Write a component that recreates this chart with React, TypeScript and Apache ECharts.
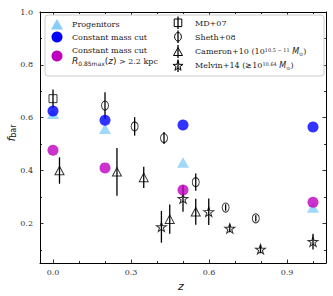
import React, { useEffect, useRef } from 'react';
import * as echarts from 'echarts';

// ---- data ----
const zModel = [0, 0.2, 0.5, 1.0];
const fProgenitors = [0.615, 0.558, 0.43, 0.26];
const fMassCut = [0.625, 0.59, 0.572, 0.565];
const fSizeCut = [0.477, 0.41, 0.326, 0.28];

const zMD07 = [0.0];
const fMD07 = [0.672];
const eMD07 = [0.035];

const zSheth08 = [0.2, 0.314, 0.427, 0.549, 0.664, 0.78];
const fSheth08 = [0.646, 0.567, 0.523, 0.356, 0.26, 0.219];
const eSheth08 = [0.05, 0.035, 0.023, 0.033, 0.012, 0.012];

const zCameron10 = [0.025, 0.246, 0.349, 0.449, 0.549];
const fCameron10 = [0.4, 0.395, 0.374, 0.216, 0.244];
const eCameron10 = [0.05, 0.09, 0.04, 0.055, 0.049];

const zMelvin14 = [0.417, 0.5, 0.599, 0.68, 0.798, 1.0];
const fMelvin14 = [0.187, 0.294, 0.244, 0.181, 0.102, 0.131];
const eMelvin14 = [0.06, 0.05, 0.05, 0.015, 0.015, 0.03];

const xMajor = [0, 0.3, 0.6, 0.9];
const xMinor = [0.1, 0.2, 0.4, 0.5, 0.7, 0.8, 1.0];
const yMajor = [0.2, 0.4, 0.6, 0.8, 1.0];
const yMinor = [0.1, 0.3, 0.5, 0.7, 0.9];

const STAR = 'path://M50 0 L61.23 34.55 L97.55 34.55 L68.17 55.9 L79.39 90.45 L50 69.1 L20.61 90.45 L31.83 55.9 L2.45 34.55 L38.77 34.55 Z';
const SERIF = 'DejaVu Serif';
const SANS = 'DejaVu Sans';
const CLEAR = 'rgba(0,0,0,0)';

function pts(z: number[], f: number[]) {
  return z.map((v, i) => [v, f[i]]);
}
function errs(z: number[], f: number[], e: number[]) {
  return z.map((v, i) => [v, f[i], f[i] - e[i], f[i] + e[i]]);
}
function starPoints(cx: number, cy: number, r: number) {
  const out: number[][] = [];
  for (let k = 0; k < 10; k++) {
    const a = -Math.PI / 2 + (k * Math.PI) / 5;
    const rr = k % 2 === 0 ? r : r * 0.382;
    out.push([cx + rr * Math.cos(a), cy + rr * Math.sin(a)]);
  }
  return out;
}

export default function App() {
  const ref = useRef<HTMLDivElement>(null);
  useEffect(() => {
    if (!ref.current) return;
    const chart = echarts.init(ref.current, null, { renderer: 'svg' });
    const tickLabel = { fontFamily: SERIF, fontSize: 8, color: '#333' };
    const mkX = (pos: string, vals: number[], len: number, label: boolean, line: boolean) => ({
      type: 'value', min: -0.05, max: 1.05, position: pos, gridIndex: 0,
      axisLine: { show: line, onZero: false, lineStyle: { color: '#000', width: 1 } },
      axisTick: { show: true, inside: true, length: len, customValues: vals, lineStyle: { color: '#000', width: 0.8 } },
      axisLabel: label ? { show: true, customValues: vals, formatter: (v: number) => v.toFixed(1), margin: 5, ...tickLabel } : { show: false },
      splitLine: { show: false },
    });
    const mkY = (pos: string, vals: number[], len: number, label: boolean, line: boolean) => ({
      type: 'value', min: 0.05, max: 1.0, position: pos, gridIndex: 0,
      axisLine: { show: line, onZero: false, lineStyle: { color: '#000', width: 1 } },
      axisTick: { show: true, inside: true, length: len, customValues: vals, lineStyle: { color: '#000', width: 0.8 } },
      axisLabel: label ? { show: true, customValues: vals, formatter: (v: number) => v.toFixed(1), margin: 7, ...tickLabel } : { show: false },
      splitLine: { show: false },
    });
    const errSeries = (data: number[][]) => ({
      type: 'custom', xAxisIndex: 0, yAxisIndex: 0,
      data,
      encode: { x: 0, y: [1, 2, 3] },
      renderItem: (_p: any, api: any) => {
        const x = api.value(0);
        const a = api.coord([x, api.value(2)]);
        const b = api.coord([x, api.value(3)]);
        return { type: 'line', shape: { x1: a[0], y1: a[1], x2: b[0], y2: b[1] }, style: { stroke: '#000', lineWidth: 1.3 } };
      },
      silent: true,
    });
    const openStyle = { color: CLEAR, borderColor: '#000', borderWidth: 1 };

    const lx = 57, rx = 178;
    const legendText = (x: number, y: number, text: string, rich?: any) => ({
      type: 'text', x, y, z: 101,
      style: { text, fontFamily: SERIF, fontSize: 8, fill: '#222', verticalAlign: 'middle', align: 'left', rich },
    });
    const richMath = {
      sup: { fontFamily: SERIF, fontSize: 5, verticalAlign: 'top', fill: '#222', padding: [0, 0, 4, 0] },
      it: { fontFamily: SANS, fontStyle: 'italic', fontSize: 8, fill: '#222' },
      sub: { fontFamily: SANS, fontSize: 5, fill: '#222', padding: [4, 0, 0, 0] },
      t: { fontFamily: SERIF, fontSize: 8, fill: '#222' },
    };
    const richR = {
      ri: { fontFamily: SANS, fontStyle: 'italic', fontSize: 9, fill: '#222' },
      rs: { fontFamily: SANS, fontSize: 6, fill: '#222', padding: [4, 0, 0, 0] },
      rn: { fontFamily: SANS, fontSize: 9, fill: '#222' },
      t: { fontFamily: SERIF, fontSize: 8, fill: '#222' },
    };

    const graphic: any[] = [
      { type: 'rect', z: 100, shape: { x: 45, y: 15, width: 279, height: 61, r: 3 }, style: { fill: 'rgba(255,255,255,0.85)', stroke: '#cccccc', lineWidth: 1 } },
      { type: 'polygon', z: 101, shape: { points: [[51, 29.5], [63, 29.5], [57, 19]] }, style: { fill: '#87CEFA' } },
      { type: 'circle', z: 101, shape: { cx: lx, cy: 37, r: 5.5 }, style: { fill: '#0000FF' } },
      { type: 'circle', z: 101, shape: { cx: lx, cy: 56, r: 5.5 }, style: { fill: '#BF00BF' } },
      legendText(72, 24, 'Progenitors'),
      legendText(72, 37, 'Constant mass cut'),
      legendText(72, 50, 'Constant mass cut'),
      legendText(72, 61, '{ri|R}{rs|0.85max}{rn|(}{ri|z}{rn|)}{t| > 2.2 kpc}', richR),
      // right legend
      { type: 'line', z: 101, shape: { x1: rx, y1: 16.5, x2: rx, y2: 29 }, style: { stroke: '#000', lineWidth: 1.3 } },
      { type: 'rect', z: 101, shape: { x: rx - 3.8, y: 19, width: 7.6, height: 7.6 }, style: { fill: CLEAR, stroke: '#000', lineWidth: 1 } },
      { type: 'line', z: 101, shape: { x1: rx, y1: 30.5, x2: rx, y2: 43 }, style: { stroke: '#000', lineWidth: 1.3 } },
      { type: 'ellipse', z: 101, shape: { cx: rx, cy: 36.8, rx: 3.4, ry: 4.3 }, style: { fill: CLEAR, stroke: '#000', lineWidth: 1 } },
      { type: 'line', z: 101, shape: { x1: rx, y1: 45, x2: rx, y2: 58 }, style: { stroke: '#000', lineWidth: 1.3 } },
      { type: 'polygon', z: 101, shape: { points: [[rx - 4.5, 55.5], [rx + 4.5, 55.5], [rx, 47.5]] }, style: { fill: CLEAR, stroke: '#000', lineWidth: 1 } },
      { type: 'line', z: 101, shape: { x1: rx, y1: 59.5, x2: rx, y2: 72 }, style: { stroke: '#000', lineWidth: 1.3 } },
      { type: 'polygon', z: 101, shape: { points: starPoints(rx, 66, 5.3) }, style: { fill: CLEAR, stroke: '#000', lineWidth: 1 } },
      legendText(195, 23, 'MD+07'),
      legendText(195, 37, 'Sheth+08'),
      legendText(195, 51.5, 'Cameron+10 (10{sup|10.5 − 11} {it|M}{sub|⊙})', richMath),
      legendText(195, 65.5, 'Melvin+14 (≳10{sup|10.64} {it|M}{sub|⊙})', richMath),
      // axis titles
      {
        type: 'text', x: 11, y: 133, rotation: Math.PI / 2, z: 50,
        style: {
          text: '{f|f}{b|bar}', align: 'center', verticalAlign: 'middle',
          rich: {
            f: { fontFamily: SANS, fontStyle: 'italic', fontSize: 11, fill: '#222' },
            b: { fontFamily: SANS, fontSize: 8, fill: '#222', padding: [5, 0, 0, 0] },
          },
        },
      },
      {
        type: 'text', x: 181, y: 286, z: 50,
        style: { text: 'z', fontFamily: SANS, fontStyle: 'italic', fontSize: 11, fill: '#222', align: 'center', verticalAlign: 'middle' },
      },
    ];

    chart.setOption({
      animation: false,
      backgroundColor: '#fff',
      grid: { left: 40, right: 7, top: 12, bottom: 33, containLabel: false },
      xAxis: [
        mkX('bottom', xMajor, 3.5, true, true),
        mkX('bottom', xMinor, 2, false, false),
        mkX('top', xMajor, 3.5, false, true),
        mkX('top', xMinor, 2, false, false),
      ],
      yAxis: [
        mkY('left', yMajor, 3.5, true, true),
        mkY('left', yMinor, 2, false, false),
        mkY('right', yMajor, 3.5, false, true),
        mkY('right', yMinor, 2, false, false),
      ],
      graphic,
      series: [
        errSeries(errs(zMD07, fMD07, eMD07)),
        errSeries(errs(zSheth08, fSheth08, eSheth08)),
        errSeries(errs(zCameron10, fCameron10, eCameron10)),
        errSeries(errs(zMelvin14, fMelvin14, eMelvin14)),
        { type: 'scatter', name: 'MD+07', data: pts(zMD07, fMD07), symbol: 'rect', symbolSize: 8, itemStyle: openStyle },
        { type: 'scatter', name: 'Sheth+08', data: pts(zSheth08, fSheth08), symbol: 'circle', symbolSize: [7, 9], itemStyle: openStyle },
        { type: 'scatter', name: 'Cameron+10', data: pts(zCameron10, fCameron10), symbol: 'triangle', symbolSize: [9, 8.5], itemStyle: openStyle },
        { type: 'scatter', name: 'Melvin+14', data: pts(zMelvin14, fMelvin14), symbol: STAR, symbolSize: [10, 9.5], itemStyle: openStyle },
        { type: 'scatter', name: 'Progenitors', data: pts(zModel, fProgenitors), symbol: 'triangle', symbolSize: [12, 10.5], itemStyle: { color: '#87CEFA' } },
        { type: 'scatter', name: 'Constant mass cut', data: pts(zModel, fMassCut), symbol: 'circle', symbolSize: 11, itemStyle: { color: '#0000FF' } },
        { type: 'scatter', name: 'Size cut', data: pts(zModel, fSizeCut), symbol: 'circle', symbolSize: 11, itemStyle: { color: '#BF00BF' } },
      ],
    });
    return () => chart.dispose();
  }, []);
  return <div ref={ref} style={{ position: 'fixed', left: 0, top: 0, width: 333, height: 296 }} />;
}
